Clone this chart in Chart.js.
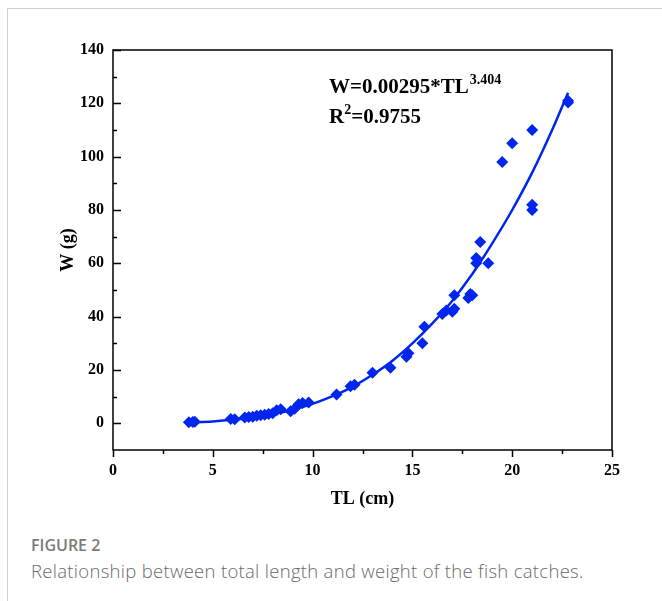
<!DOCTYPE html>
<html>
<head>
<meta charset="utf-8">
<script src="https://cdn.jsdelivr.net/npm/chart.js@4/dist/chart.umd.min.js"></script>
<style>
    html, body { margin: 0; padding: 0; background: #fff; }
    body { width: 662px; height: 601px; position: relative; overflow: hidden; }
    #card { position: absolute; left: 7px; top: 8px; width: 720px; height: 720px;
            border-top: 1px solid #d2d2d2; border-left: 1px solid #d2d2d2; }
    #wrap { position: absolute; left: 0; top: 0; width: 662px; height: 520px; }
    .figno { position: absolute; left: 31px; top: 534px; font: 600 16px "Open Sans"; color: #7a7a7a; }
    .caption { position: absolute; left: 31px; top: 558px; font: 300 18.5px "Open Sans"; color: #6a6a6a;
               letter-spacing: 0.3px; white-space: nowrap; }
</style>
</head>
<body>
<div id="card"></div>
<div id="wrap"><canvas id="lwChart" width="662" height="520"></canvas></div>
<div class="figno">FIGURE 2</div>
<div class="caption">Relationship between total length and weight of the fish catches.</div>
<script>
(function () {
    'use strict';

    // ── 觀測值：全長 (cm) / 體重 (g) ─────────────────────────
    var lengthCm = [3.8, 4.0, 4.1, 5.9, 6.1, 6.6, 6.8, 7.0, 7.2, 7.4, 7.6, 7.8, 8.0, 8.2, 8.4,
                    8.9, 9.1, 9.3, 9.5, 9.8, 11.2, 11.9, 12.1, 13.0, 13.9, 14.7, 14.8, 15.5, 15.6,
                    16.5, 16.7, 17.0, 17.1, 17.1, 17.8, 17.9, 18.0, 18.2, 18.2, 18.4, 18.8,
                    19.5, 20.0, 21.0, 21.0, 21.0, 22.8, 22.8];
    var weightG  = [0.4, 0.5, 0.6, 1.6, 1.5, 2.2, 2.4, 2.5, 2.8, 3.0, 3.2, 3.5, 3.8, 4.9, 5.3,
                    4.5, 5.5, 7.2, 7.6, 7.8, 10.8, 13.9, 14.5, 19.0, 20.8, 25.0, 26.3, 30.0, 36.2,
                    41.0, 42.3, 41.8, 43.0, 48.0, 47.0, 48.5, 48.0, 60.0, 62.0, 68.0, 60.0,
                    98.0, 105.0, 110.0, 82.0, 80.0, 120.3, 121.0];

    // ── 擬合曲線（讀圖取點）──────────────────────────────────
    var fitLength = [3.8, 5, 6, 7, 8, 9, 10, 11, 12, 13, 14, 15, 16, 17, 18, 19, 20, 21, 22, 22.8];
    var fitWeight = [0.3, 0.7, 1.3, 2.2, 3.5, 5.1, 7.3, 10.2, 13.7, 18.2, 23.5, 30, 37.5, 46, 56,
                     67.5, 80, 94, 110, 124];

    // ── 刻度 ─────────────────────────────────────────────────
    var xTickValues  = [0, 5, 10, 15, 20, 25];
    var xMinorValues = [2.5, 7.5, 12.5, 17.5, 22.5];
    var yTickValues  = [0, 20, 40, 60, 80, 100, 120, 140];
    var yMinorValues = [10, 30, 50, 70, 90, 110, 130];

    var BLUE = '#0026ee';
    var SERIF = '"Liberation Serif", "Times New Roman", serif';

    function zip(xs, ys) {
        return xs.map(function (x, i) { return { x: x, y: ys[i] }; });
    }

    // 外框 + 刻度線（y 內刻度、x 外刻度）
    var framePlugin = {
        id: 'frame',
        afterDraw: function (chart) {
            var ctx = chart.ctx, a = chart.chartArea;
            var xs = chart.scales.x, ys = chart.scales.y;
            ctx.save();
            ctx.strokeStyle = '#000';
            ctx.lineWidth = 1.5;
            ctx.strokeRect(a.left, a.top, a.right - a.left, a.bottom - a.top);
            ctx.beginPath();
            yTickValues.forEach(function (v) {
                var p = Math.round(ys.getPixelForValue(v)) + 0.5;
                ctx.moveTo(a.left, p); ctx.lineTo(a.left + 8, p);
            });
            yMinorValues.forEach(function (v) {
                var p = Math.round(ys.getPixelForValue(v)) + 0.5;
                ctx.moveTo(a.left, p); ctx.lineTo(a.left + 4, p);
            });
            xTickValues.forEach(function (v) {
                var p = Math.round(xs.getPixelForValue(v)) + 0.5;
                ctx.moveTo(p, a.bottom); ctx.lineTo(p, a.bottom + 7);
            });
            xMinorValues.forEach(function (v) {
                var p = Math.round(xs.getPixelForValue(v)) + 0.5;
                ctx.moveTo(p, a.bottom); ctx.lineTo(p, a.bottom + 4);
            });
            ctx.stroke();
            ctx.restore();
        }
    };

    // 方程式標註
    var equationPlugin = {
        id: 'equation',
        afterDraw: function (chart) {
            var ctx = chart.ctx, a = chart.chartArea;
            var x = a.left + 216;
            ctx.save();
            ctx.fillStyle = '#000';
            ctx.textBaseline = 'alphabetic';
            ctx.textAlign = 'left';

            ctx.font = 'bold 21px ' + SERIF;
            var main = 'W=0.00295*TL';
            ctx.fillText(main, x, a.top + 43);
            var w = ctx.measureText(main).width;
            ctx.font = 'bold 14px ' + SERIF;
            ctx.fillText('3.404', x + w + 1, a.top + 34);

            ctx.font = 'bold 21px ' + SERIF;
            ctx.fillText('R', x, a.top + 73);
            var wr = ctx.measureText('R').width;
            ctx.font = 'bold 14px ' + SERIF;
            ctx.fillText('2', x + wr, a.top + 64);
            var w2 = ctx.measureText('2').width;
            ctx.font = 'bold 21px ' + SERIF;
            ctx.fillText('=0.9755', x + wr + w2, a.top + 73);
            ctx.restore();
        }
    };

    function init() {
        var canvas = document.getElementById('lwChart');
        new Chart(canvas.getContext('2d'), {
            type: 'scatter',
            data: {
                datasets: [{
                    type: 'line',
                    data: zip(fitLength, fitWeight),
                    borderColor: BLUE,
                    borderWidth: 2.5,
                    pointRadius: 0,
                    fill: false,
                    cubicInterpolationMode: 'monotone'
                }, {
                    data: zip(lengthCm, weightG),
                    pointStyle: 'rectRot',
                    pointRadius: 6,
                    backgroundColor: BLUE,
                    borderColor: BLUE,
                    borderWidth: 0
                }]
            },
            options: {
                responsive: false,
                animation: false,
                devicePixelRatio: 1,
                layout: { padding: { left: 40, top: 50, right: 50, bottom: 0 } },
                plugins: { legend: { display: false }, tooltip: { enabled: false } },
                scales: {
                    x: {
                        type: 'linear',
                        min: 0,
                        max: 25,
                        afterBuildTicks: function (s) {
                            s.ticks = xTickValues.map(function (v) { return { value: v }; });
                        },
                        afterFit: function (s) { s.height = 70; },
                        grid: { display: false, drawTicks: false },
                        border: { display: false },
                        ticks: {
                            font: { family: SERIF, size: 16, weight: 'bold' },
                            color: '#000',
                            padding: 11,
                            maxRotation: 0,
                            autoSkip: false
                        },
                        title: {
                            display: true,
                            text: 'TL (cm)',
                            color: '#000',
                            font: { family: SERIF, size: 18, weight: 'bold' },
                            padding: { top: 0, bottom: 10 }
                        }
                    },
                    y: {
                        type: 'linear',
                        min: -10,
                        max: 140,
                        afterBuildTicks: function (s) {
                            s.ticks = yTickValues.map(function (v) { return { value: v }; });
                        },
                        afterFit: function (s) { s.width = 73; },
                        grid: { display: false, drawTicks: false },
                        border: { display: false },
                        ticks: {
                            font: { family: SERIF, size: 16, weight: 'bold' },
                            color: '#000',
                            padding: 9,
                            autoSkip: false
                        },
                        title: {
                            display: true,
                            text: 'W (g)',
                            color: '#000',
                            font: { family: SERIF, size: 18, weight: 'bold' },
                            padding: { top: 18, bottom: 0 }
                        }
                    }
                }
            },
            plugins: [framePlugin, equationPlugin]
        });
    }

    document.addEventListener('DOMContentLoaded', init);
})();
</script>
</body>
</html>
